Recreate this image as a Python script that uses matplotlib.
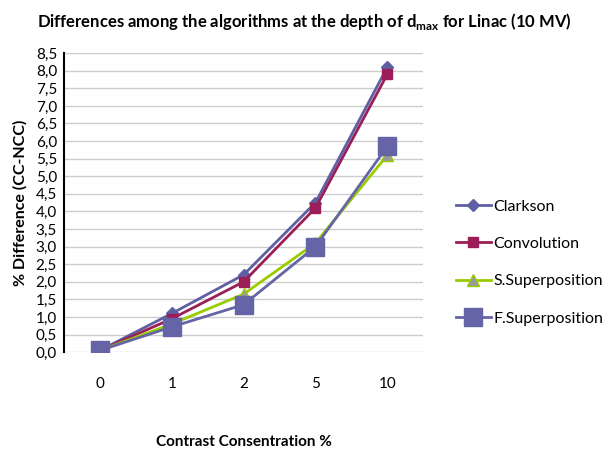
import matplotlib
matplotlib.use("Agg")
import matplotlib.pyplot as plt
from matplotlib.ticker import FuncFormatter

# data
categories = ["0", "1", "2", "5", "10"]
clarkson = [0.05, 1.1, 2.2, 4.25, 8.1]
convolution = [0.05, 0.95, 2.0, 4.1, 7.9]
s_superposition = [0.05, 0.8, 1.65, 3.1, 5.6]
f_superposition = [0.05, 0.72, 1.35, 3.0, 5.85]
yticks = [i * 0.5 for i in range(18)]

plt.rcParams['font.family'] = ['Lato', 'DejaVu Sans']

fig = plt.figure(figsize=(6.09, 4.58), dpi=100)
ax = fig.add_axes([0.105, 0.231, 0.59, 0.653])
x = list(range(len(categories)))

ax.plot(x, clarkson, color='#5F5FA3', lw=2, marker='D', ms=6, label='Clarkson')
ax.plot(x, convolution, color='#9B1E58', lw=2, marker='s', ms=7, label='Convolution')
ax.plot(x, s_superposition, color='#99CC00', lw=2, marker='^', ms=8,
        markerfacecolor='#999999', markeredgecolor='#99CC00', label='S.Superposition')
ax.plot(x, f_superposition, color='#6464A6', lw=2, marker='s', ms=13, label='F.Superposition')

ax.set_xlim(-0.5, len(categories) - 0.5)
ax.set_ylim(0, 8.5)
ax.set_xticks(x)
ax.set_xticklabels(categories)
ax.set_yticks(yticks)
ax.yaxis.set_major_formatter(FuncFormatter(lambda v, p: f"{v:.1f}".replace('.', ',')))
ax.tick_params(axis='both', length=0, labelsize=11, pad=5)
ax.tick_params(axis='x', pad=18)

ax.grid(axis='y', color='#cccccc', lw=1)
ax.set_axisbelow(True)
for s in ['top', 'right', 'bottom']:
    ax.spines[s].set_visible(False)
ax.spines['left'].set_color('black')
ax.spines['left'].set_linewidth(1.5)

fig.text(0.40, 0.035, 'Contrast Consentration %', fontsize=11, fontweight='bold',
         ha='center', va='center')
ax.set_ylabel('% Difference (CC-NCC)', fontsize=11.5, fontweight='bold', labelpad=6)
fig.suptitle('Differences among the algorithms at the depth of d$_{\\mathregular{max}}$ for Linac (10 MV)',
             fontsize=12, fontweight='bold', y=0.975)

ax.legend(loc='center left', bbox_to_anchor=(1.05, 0.30), frameon=False,
          fontsize=11.5, labelspacing=1.45, handlelength=2.2, handletextpad=0.15)

fig.savefig('out.png', dpi=100)
